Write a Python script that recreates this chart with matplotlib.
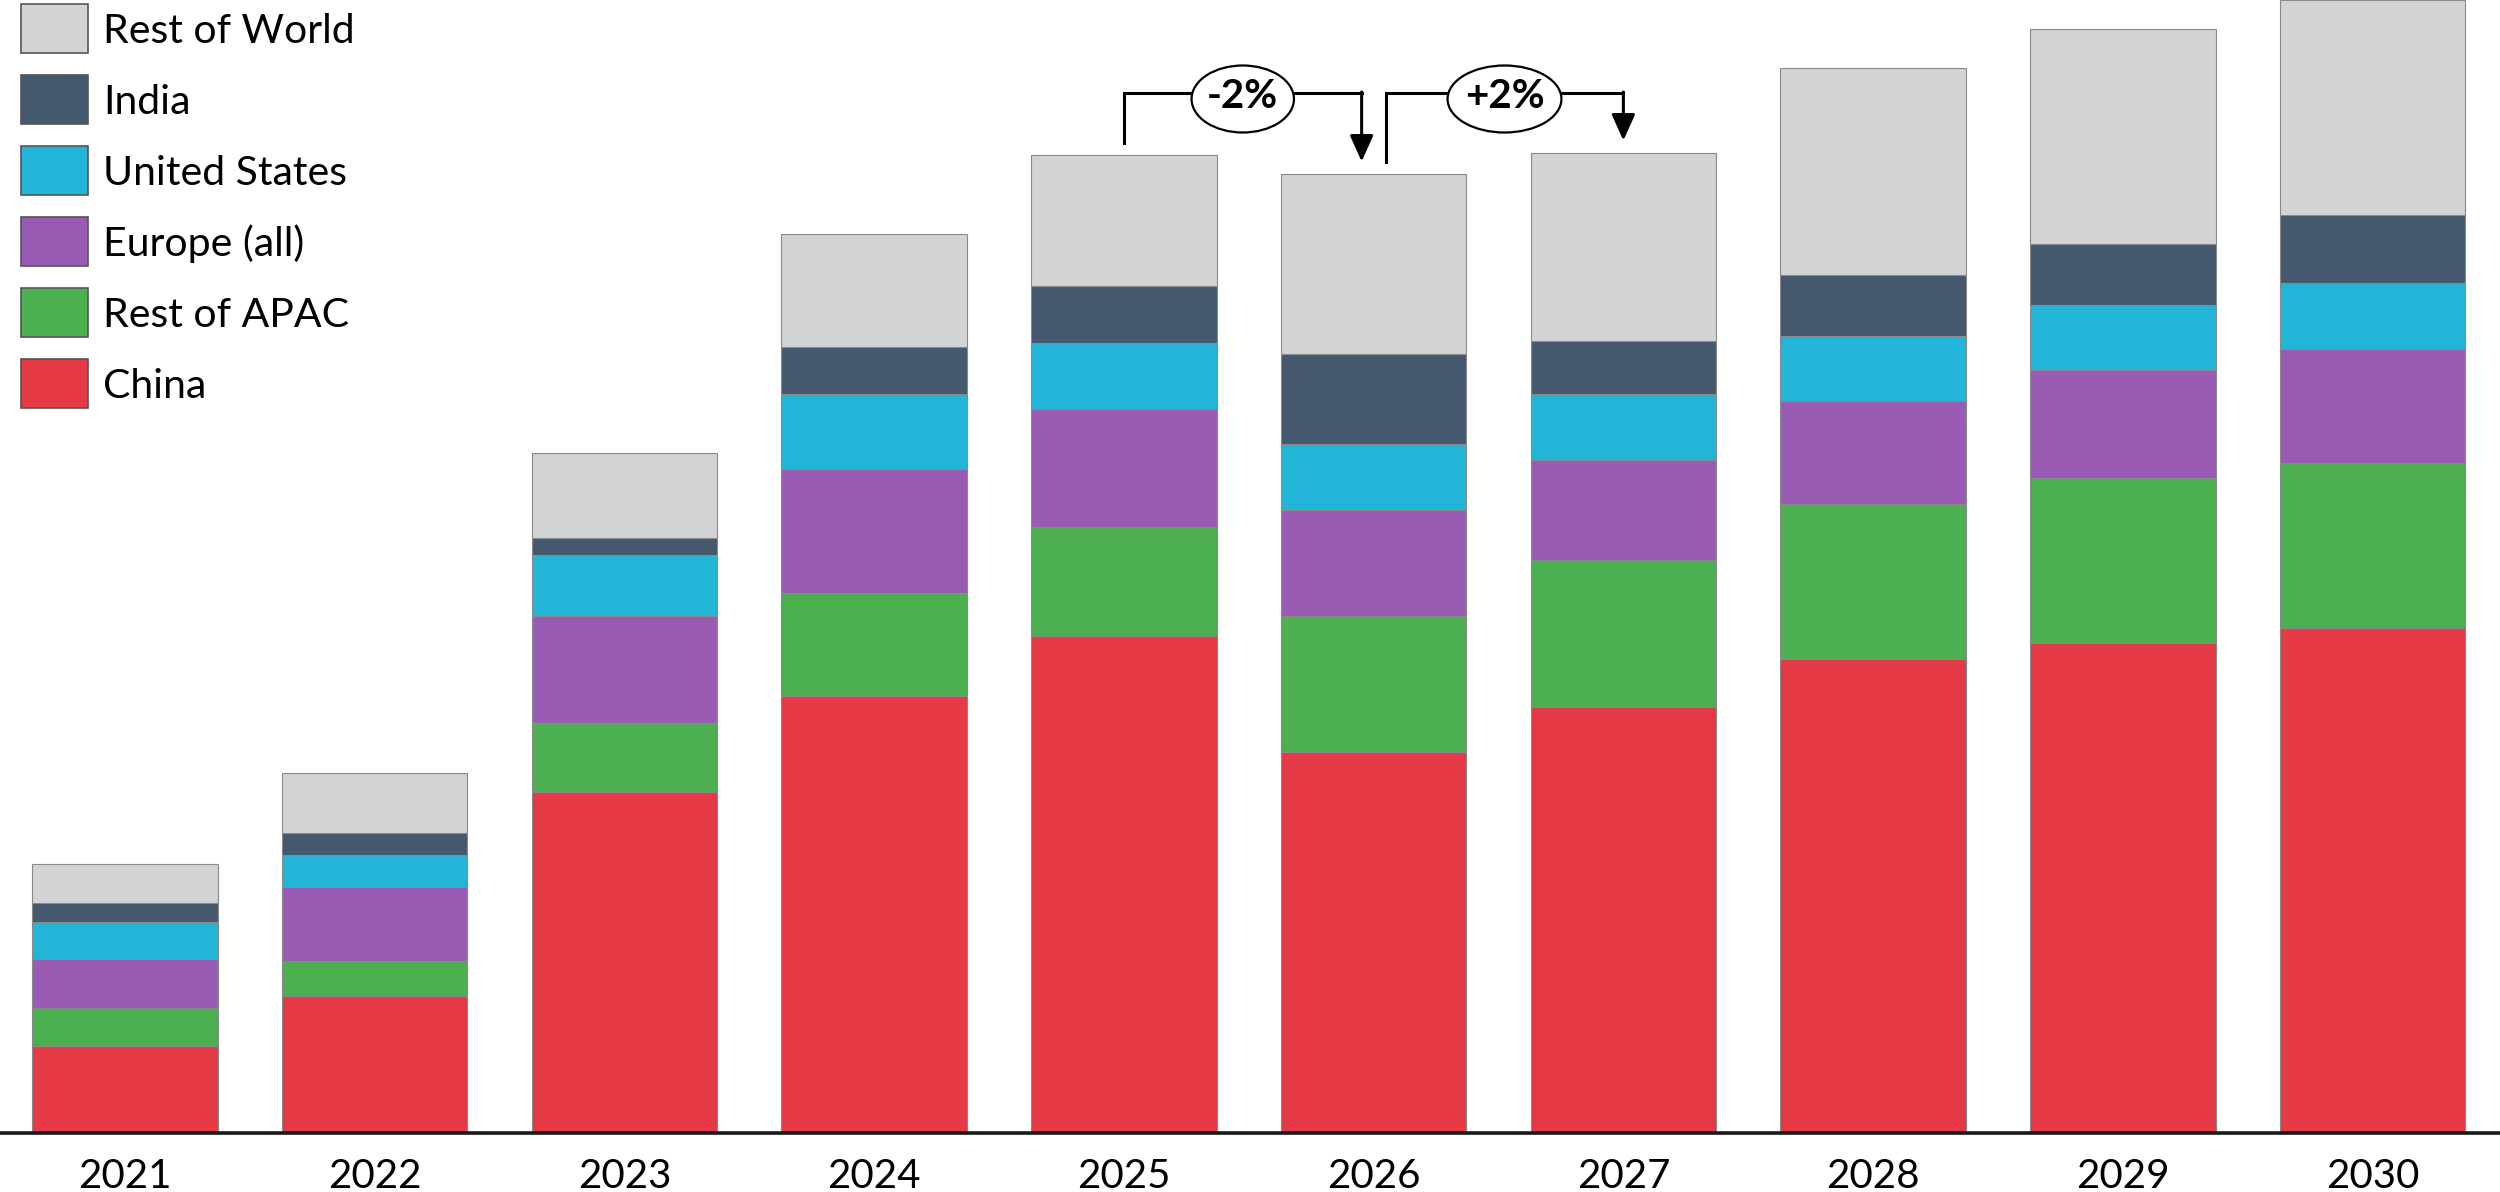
import numpy as np
import matplotlib.pyplot as plt
from matplotlib.patches import Rectangle, Ellipse

plt.rcParams['font.family'] = ['Lato', 'DejaVu Sans']

years = ['2021', '2022', '2023', '2024', '2025', '2026', '2027', '2028', '2029', '2030']

# segment sizes, bottom to top (arbitrary units)
china = [8.7, 13.7, 34.05, 43.7, 49.7, 38.1, 42.6, 47.4, 49.0, 50.5]
rest_apac = [3.8, 3.5, 6.95, 10.3, 10.9, 13.6, 14.7, 15.5, 16.5, 16.5]
europe = [4.9, 7.4, 10.7, 12.4, 11.8, 10.6, 10.0, 10.3, 10.75, 11.4]
united_states = [3.7, 3.2, 6.1, 7.5, 6.6, 6.55, 6.6, 6.5, 6.55, 6.55]
india = [1.9, 2.2, 1.7, 4.7, 5.65, 9.05, 5.3, 6.1, 6.1, 6.85]
rest_world = [3.9, 6.0, 8.45, 11.3, 13.15, 18.0, 18.8, 20.7, 21.45, 21.5]

series = [
    ('China', china, '#E63946'),
    ('Rest of APAC', rest_apac, '#4CAF50'),
    ('Europe (all)', europe, '#9A5BB5'),
    ('United States', united_states, '#22B5D8'),
    ('India', india, '#44596E'),
    ('Rest of World', rest_world, '#D1D3D5'),
]

# year-on-year changes marked with brackets: (from index, to index, label)
changes = [(4, 5, '-2%'), (5, 6, '+2%')]

W, H = 2500, 1192
fig = plt.figure(figsize=(W / 100, H / 100), dpi=100)
ax = fig.add_axes([0, 0.0495, 1, 0.9505])

x = np.arange(len(years))
bottom = np.zeros(len(years))
for name, vals, col in series:
    ax.bar(x, vals, width=0.743, bottom=bottom, color=col,
           edgecolor='#8a8a8a', linewidth=0.8, clip_on=False, zorder=2)
    bottom += np.array(vals)
totals = bottom

ax.set_xlim(-0.5, 9.51)
ax.set_ylim(0, 113.3)
ax.set_xticks(x)
ax.set_xticklabels(years, fontsize=29)
ax.tick_params(axis='x', length=0, pad=18)
ax.set_yticks([])
for s in ['top', 'left', 'right']:
    ax.spines[s].set_visible(False)
ax.spines['bottom'].set_linewidth(2.6)
ax.spines['bottom'].set_color('#1a1a1a')
ax.spines['bottom'].set_zorder(3)

# brackets with arrows
line_y = 104.0
off = 0.048
for i0, i1, lab in changes:
    xs = x[i0] + (off if i0 == 5 else 0)
    xe = x[i1] - (off if i1 == 5 else 0)
    ax.plot([xs, xs, xe], [totals[i0] + 1.2, line_y, line_y], color='black',
            lw=2.2, solid_joinstyle='miter', clip_on=False, zorder=4)
    ax.annotate('', xy=(xe, totals[i1] + 1.25), xytext=(xe, line_y + 0.1),
                arrowprops=dict(arrowstyle='-|>,head_width=0.36,head_length=0.8',
                                mutation_scale=20, lw=2.2, color='black',
                                shrinkA=0, shrinkB=0), zorder=4)
    cx = (xs + xe) / 2
    w = 0.41 if lab.startswith('-') else 0.456
    ax.add_patch(Ellipse((cx, 103.4), w, 6.7, facecolor='white', edgecolor='black',
                         lw=1.6, clip_on=False, zorder=5))
    ax.text(cx, 102.45, lab, ha='center', va='baseline', fontsize=29,
            fontweight='bold', zorder=6)

# legend, drawn by hand (top row = Rest of World)
for k, (name, vals, col) in enumerate(series[::-1]):
    top = 4 + 71 * k
    fig.add_artist(Rectangle((21 / W, 1 - (top + 49) / H), 67 / W, 49 / H,
                             transform=fig.transFigure, facecolor=col,
                             edgecolor='#555555', linewidth=1.2))
    fig.text(103 / W, 1 - (top + 39) / H, name, fontsize=29.5, va='baseline',
             ha='left')

fig.savefig('out.png', dpi=100)
